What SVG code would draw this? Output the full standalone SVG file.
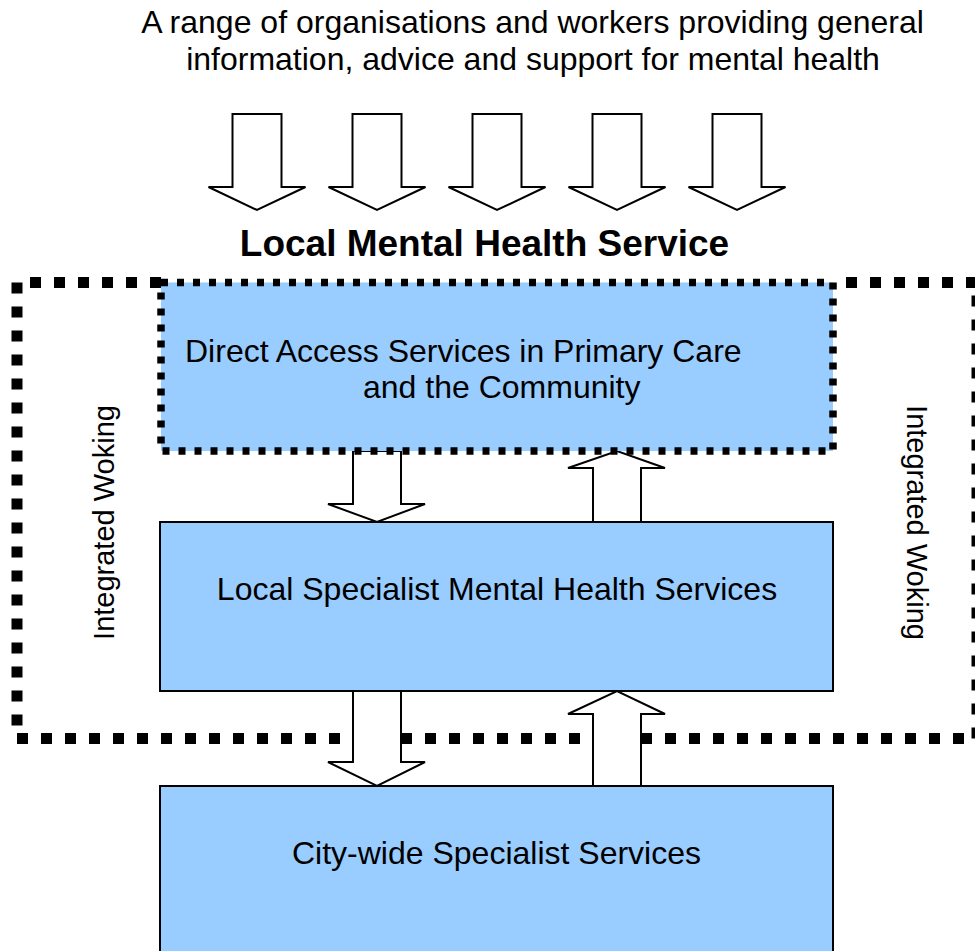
<svg xmlns="http://www.w3.org/2000/svg" width="975" height="951" viewBox="0 0 975 951">
  <style>
    text { font-family: "Liberation Sans", Arial, sans-serif; fill: #000; }
    .t32 { font-size: 32px; }
    .title { font-size: 37px; font-weight: bold; }
    .side { font-size: 29px; }
    .mid { text-anchor: middle; }
    .arrow { fill: #fff; stroke: #000; stroke-width: 2; stroke-linejoin: miter; }
    .box { fill: #99CCFF; stroke: #000; stroke-width: 2; }
    .dotbox { fill: #99CCFF; stroke: #000; stroke-width: 7.5; stroke-dasharray: 7 9; }
    .outer { fill: none; stroke: #000; stroke-width: 11; stroke-dasharray: 11 13; }
  </style>
  <defs>
    <!-- feed arrow pointing down, origin at top-centre of shaft -->
    <path id="feed" class="arrow" d="M-24.5 0 H24.5 V73 H48.5 L0 96 L-48.5 73 H-24.5 Z"/>
  </defs>

  <rect width="975" height="951" fill="#fff"/>

  <g id="intro">
    <text class="t32 mid" x="532.5" y="33">A range of organisations and workers providing general</text>
    <text class="t32 mid" x="533" y="70">information, advice and support for mental health</text>
  </g>

  <g id="feed-arrows">
    <use href="#feed" x="257" y="114"/>
    <use href="#feed" x="377" y="114"/>
    <use href="#feed" x="497" y="114"/>
    <use href="#feed" x="617" y="114"/>
    <use href="#feed" x="737" y="114"/>
  </g>

  <g id="title">
    <text class="title mid" x="484.5" y="256">Local Mental Health Service</text>
  </g>

  <!-- dotted boundary of the local service -->
  <g id="integrated-working">
    <path class="outer" d="M161 282.5 H17 V738.5 H977 V282.5 H833"/>
    <text class="side mid" transform="translate(114 522.5) rotate(-90)">Integrated Woking</text>
    <text class="side mid" transform="translate(907 522.5) rotate(90)">Integrated Woking</text>
  </g>

  <g id="connectors">
    <path class="arrow" d="M353 451 H401 V504 H425 L377 522 L328 504 H353 Z"/>
    <path class="arrow" d="M593 522 V468 H568 L617 451 L665 468 H641 V522 Z"/>
    <path class="arrow" d="M353 691 H401 V762 H425 L377 786 L328 762 H353 Z"/>
    <path class="arrow" d="M593 786 V714 H568 L617 691 L665 714 H641 V786 Z"/>
  </g>

  <g id="direct-access">
    <rect class="dotbox" x="161" y="282.5" width="672" height="168.5"/>
    <text class="t32" x="185" y="362">Direct Access Services in Primary Care</text>
    <text class="t32" x="363" y="398">and the Community</text>
  </g>

  <g id="local-specialist">
    <rect class="box" x="160" y="522" width="673" height="169"/>
    <text class="t32 mid" x="497" y="600">Local Specialist Mental Health Services</text>
  </g>

  <g id="city-wide">
    <rect class="box" x="160" y="786" width="673" height="180"/>
    <text class="t32 mid" x="496.5" y="864">City-wide Specialist Services</text>
  </g>
</svg>
